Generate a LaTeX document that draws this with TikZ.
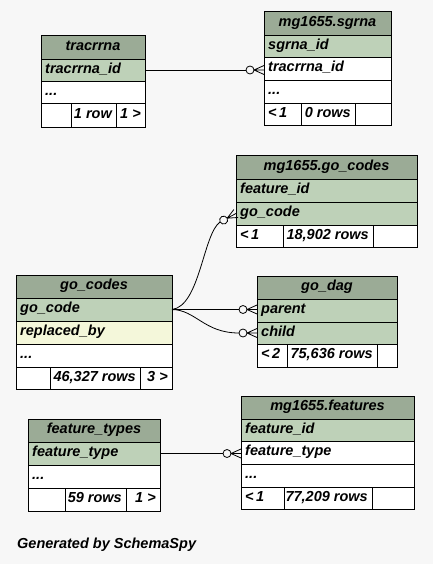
\documentclass[tikz,border=0pt]{standalone}
\usepackage{fontspec}
\setmainfont{Liberation Sans}
\usetikzlibrary{calc}

\definecolor{pagebg}{HTML}{F7F7F7}
\definecolor{headbg}{HTML}{9BAB96}
\definecolor{keybg}{HTML}{BED1B8}
\definecolor{idxbg}{HTML}{F4F7DA}

\tikzset{
  cell/.style={draw=black, line width=0.9pt, inner sep=0pt, outer sep=0pt},
  txt/.style={inner xsep=4pt, inner ysep=0pt, text height=9.6pt, text depth=3pt,
              font=\fontsize{14.5}{16}\selectfont\bfseries\itshape},
  conn/.style={draw=black, line width=0.8pt},
  crowdot/.pic={
    \draw[conn] (-10,0) -- (0,4.5) (-10,0) -- (0,0) (-10,0) -- (0,-4.5);
    \draw[conn] (-14,0) circle[radius=4pt];
    \coordinate (-tail) at (-18,0);
  }
}

% \cellbox{name}{x1}{y1}{x2}{y2}{fill}
\newcommand\cellbox[6]{%
  \node[cell, fill=#6, minimum width={(#4-#2)*1pt}, minimum height={(#5-#3)*1pt},
        anchor=north west] (#1) at (#2,#3) {};}
% \celltxt{cell}{anchor}{text}
\newcommand\celltxt[3]{\node[txt, anchor=#2] (#1-t) at (#1.#2) {#3};}

\begin{document}
\begin{tikzpicture}[x=1pt, y=-1pt]
\useasboundingbox (0,0) rectangle (433,564);
\fill[pagebg] (0,0) rectangle (433,564);

% tracrrna
\cellbox{tr-h}{41}{35}{145}{59}{headbg}\celltxt{tr-h}{center}{tracrrna}
\cellbox{tr-id}{41}{59}{145}{81}{keybg}\celltxt{tr-id}{west}{tracrrna\_id}
\cellbox{tr-more}{41}{81}{145}{103}{white}\celltxt{tr-more}{west}{...}
\cellbox{tr-f1}{41}{103}{71}{127}{white}
\cellbox{tr-f2}{71}{103}{116}{127}{white}\celltxt{tr-f2}{east}{1 row}
\cellbox{tr-f3}{116}{103}{145}{127}{white}\celltxt{tr-f3}{east}{1 >}

% mg1655.sgrna
\cellbox{sg-h}{264}{11}{391}{35}{headbg}\celltxt{sg-h}{center}{mg1655.sgrna}
\cellbox{sg-id}{264}{35}{391}{57}{keybg}\celltxt{sg-id}{west}{sgrna\_id}
\cellbox{sg-tr}{264}{57}{391}{80}{white}\celltxt{sg-tr}{west}{tracrrna\_id}
\cellbox{sg-more}{264}{80}{391}{103}{white}\celltxt{sg-more}{west}{...}
\cellbox{sg-f1}{264}{103}{301}{125}{white}\celltxt{sg-f1}{west}{<\,1}
\cellbox{sg-f2}{301}{103}{355}{125}{white}\celltxt{sg-f2}{east}{0 rows}
\cellbox{sg-f3}{355}{103}{391}{125}{white}

% mg1655.go_codes
\cellbox{mg-h}{236}{155}{417}{179}{headbg}\celltxt{mg-h}{center}{mg1655.go\_codes}
\cellbox{mg-fid}{236}{179}{417}{202}{keybg}\celltxt{mg-fid}{west}{feature\_id}
\cellbox{mg-go}{236}{202}{417}{225}{keybg}\celltxt{mg-go}{west}{go\_code}
\cellbox{mg-f1}{236}{225}{283}{247}{white}\celltxt{mg-f1}{west}{<\,1}
\cellbox{mg-f2}{283}{225}{373}{247}{white}\celltxt{mg-f2}{east}{18,902 rows}
\cellbox{mg-f3}{373}{225}{417}{247}{white}

% go_dag
\cellbox{dag-h}{257}{276}{397}{299}{headbg}\celltxt{dag-h}{center}{go\_dag}
\cellbox{dag-p}{257}{299}{397}{322}{keybg}\celltxt{dag-p}{west}{parent}
\cellbox{dag-c}{257}{322}{397}{344}{keybg}\celltxt{dag-c}{west}{child}
\cellbox{dag-f1}{257}{344}{287}{367}{white}\celltxt{dag-f1}{west}{<\,2}
\cellbox{dag-f2}{287}{344}{377}{367}{white}\celltxt{dag-f2}{east}{75,636 rows}
\cellbox{dag-f3}{377}{344}{397}{367}{white}

% go_codes
\cellbox{gc-h}{16}{275}{172}{298}{headbg}\celltxt{gc-h}{center}{go\_codes}
\cellbox{gc-go}{16}{298}{172}{321}{keybg}\celltxt{gc-go}{west}{go\_code}
\cellbox{gc-rb}{16}{321}{172}{344}{idxbg}\celltxt{gc-rb}{west}{replaced\_by}
\cellbox{gc-more}{16}{344}{172}{367}{white}\celltxt{gc-more}{west}{...}
\cellbox{gc-f1}{16}{367}{50}{389}{white}
\cellbox{gc-f2}{50}{367}{140}{389}{white}\celltxt{gc-f2}{east}{46,327 rows}
\cellbox{gc-f3}{140}{367}{172}{389}{white}\celltxt{gc-f3}{east}{3 >}

% feature_types
\cellbox{ft-h}{28}{419}{160}{442}{headbg}\celltxt{ft-h}{center}{feature\_types}
\cellbox{ft-ft}{28}{442}{160}{465}{keybg}\celltxt{ft-ft}{west}{feature\_type}
\cellbox{ft-more}{28}{465}{160}{488}{white}\celltxt{ft-more}{west}{...}
\cellbox{ft-f1}{28}{488}{65}{511}{white}
\cellbox{ft-f2}{65}{488}{126}{511}{white}\celltxt{ft-f2}{east}{59 rows}
\cellbox{ft-f3}{126}{488}{160}{511}{white}\celltxt{ft-f3}{east}{1 >}

% mg1655.features
\cellbox{fe-h}{241}{396}{414}{419}{headbg}\celltxt{fe-h}{center}{mg1655.features}
\cellbox{fe-id}{241}{419}{414}{441}{keybg}\celltxt{fe-id}{west}{feature\_id}
\cellbox{fe-ft}{241}{441}{414}{464}{white}\celltxt{fe-ft}{west}{feature\_type}
\cellbox{fe-more}{241}{464}{414}{487}{white}\celltxt{fe-more}{west}{...}
\cellbox{fe-f1}{241}{487}{284}{509}{white}\celltxt{fe-f1}{west}{<\,1}
\cellbox{fe-f2}{284}{487}{372}{509}{white}\celltxt{fe-f2}{east}{77,209 rows}
\cellbox{fe-f3}{372}{487}{414}{509}{white}

% relationships: zero-or-many ends at the referencing columns
\pic (e1) at (sg-tr.west |- tr-id.east) {crowdot};
\draw[conn] (tr-id.east) -- (e1-tail);

\pic[rotate=28] (e2) at (mg-go.west) {crowdot};
\draw[conn] (gc-go.east) .. controls (200,306) and (203,234) .. (e2-tail);

\pic (e3) at (dag-p.west |- gc-go.east) {crowdot};
\draw[conn] (gc-go.east) -- (e3-tail);

\pic (e4) at (dag-c.west) {crowdot};
\draw[conn] (gc-go.east) .. controls (196,310) and (204,333) .. (e4-tail);

\pic (e5) at (fe-ft.west |- ft-ft.east) {crowdot};
\draw[conn] (ft-ft.east) -- (e5-tail);

\node[txt, anchor=west, inner xsep=0pt] (credit) at (17,545) {Generated by SchemaSpy};
\end{tikzpicture}
\end{document}
